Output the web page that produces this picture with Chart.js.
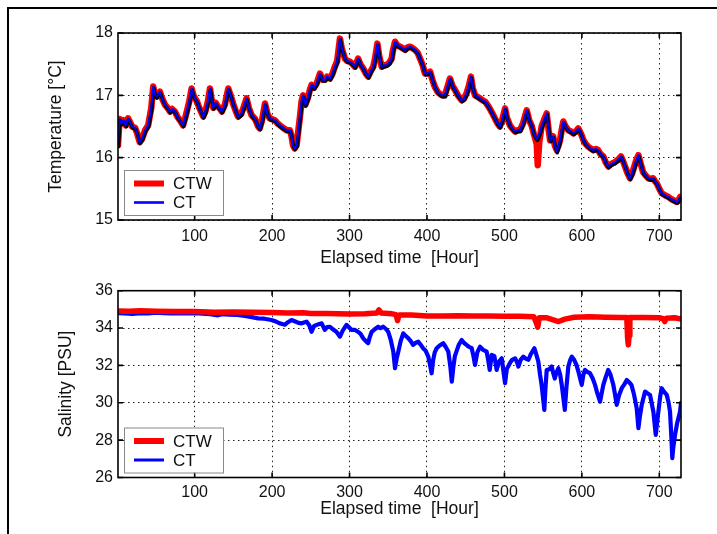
<!DOCTYPE html>
<html><head><meta charset="utf-8">
<script src="https://cdn.jsdelivr.net/npm/chart.js@4.4.0/dist/chart.umd.min.js"></script>
<style>
html,body{margin:0;padding:0;background:#fff;}
#wrap{position:relative;width:717px;height:534px;overflow:hidden;background:#fff;}
#frame{position:absolute;left:7px;top:7px;width:800px;height:600px;border-top:2px solid #000;border-left:2px solid #000;}
canvas{position:absolute;left:0;}
#c1{top:0;}
#c2{top:269px;}
</style></head><body>
<div id="wrap"><div id="frame"></div>
<canvas id="c1" width="717" height="269"></canvas>
<canvas id="c2" width="717" height="265"></canvas>
</div>
<script>
// ---------- DATA ----------
const xTicks = [100, 200, 300, 400, 500, 600, 700];
const tempTicks = [15, 16, 17, 18];
const salTicks = [26, 28, 30, 32, 34, 36];
const seriesNames = ['CTW', 'CT'];

const tempHours = [
  1,3,5,8,11,14,17,19,23,26,
  29,32,36,40,42,44,46.5,49,51,55,
  58,61.6,65,68,71,74.5,78,81,85,88,
  90,93,96,99,103,106,111,114,117,119.8,
  122,124,127,130,133,135,139,143.4,147,150,
  153,156,160,163,167,170,173.6,178,182,184,
  187,190.8,194,197,203.7,207,210,214,218.8,223,
  225,227,229,231.7,234,236,238,240,243,246.7,
  249,251,254,257.5,261.8,265,268,271,274.7,278,
  281,284,287.6,290,294,297,300.5,304,307,311,
  314,317.7,321,324,327,330.7,333,336,338,341.5,
  345,348,351,354.4,356,358.7,362,365,368,371.6,
  375,378,381,384.5,388,391,394,397.4,400,404,
  407,410,414,419,423,426,429.7,433,436,440,
  444.8,448,451,454,456.8,459,462,465,468.5,472,
  475,478,481,484,487.8,491,494,497,500.8,503,
  507,510,513.7,517,520,524,528.8,532,535,538,
  541.7,543,545,548,551,554.6,557,559,563,565,
  567.5,570,571.8,574,576,579,582.5,586,589,592,
  595.4,599,602,605,608,611,614.8,618,621,624,
  627.7,631,634,638,642.8,647,650.5,653,655.7,659,
  662,665,667.7,670,673,676,679,682,685.8,689,
  692,694,696.6,700,703,707,711.6,715,718,722.5,
  725,727
];
const tempCT = [
  16.20,16.62,16.55,16.60,16.52,16.63,16.56,16.50,16.48,16.38,
  16.25,16.30,16.44,16.52,16.66,16.80,17.14,17.00,16.98,17.06,
  16.95,16.85,16.80,16.74,16.78,16.74,16.65,16.60,16.52,16.65,
  16.75,16.90,17.11,16.98,16.90,16.80,16.66,16.75,16.90,17.11,
  16.92,16.80,16.88,16.82,16.78,16.74,16.85,17.11,16.98,16.85,
  16.75,16.66,16.70,16.80,16.95,16.80,16.68,16.62,16.50,16.47,
  16.60,16.87,16.70,16.63,16.60,16.55,16.52,16.48,16.44,16.44,
  16.35,16.20,16.15,16.20,16.45,16.66,16.90,17.00,16.85,16.98,
  17.10,17.17,17.12,17.19,17.35,17.25,17.25,17.30,17.27,17.35,
  17.46,17.55,17.91,17.75,17.59,17.55,17.54,17.50,17.46,17.59,
  17.50,17.43,17.35,17.30,17.38,17.46,17.60,17.83,17.65,17.46,
  17.48,17.49,17.52,17.59,17.72,17.86,17.80,17.78,17.76,17.73,
  17.77,17.78,17.76,17.73,17.68,17.59,17.50,17.35,17.35,17.38,
  17.25,17.14,17.05,17.00,17.00,17.12,17.27,17.15,17.09,17.00,
  16.92,16.95,17.03,17.15,17.30,17.12,17.00,16.98,16.95,16.92,
  16.90,16.85,16.79,16.72,16.63,16.55,16.50,16.60,16.79,16.65,
  16.52,16.47,16.42,16.44,16.44,16.55,16.76,16.60,16.52,16.38,
  16.30,16.32,16.38,16.50,16.60,16.71,16.45,16.28,16.34,16.20,
  16.10,16.20,16.28,16.45,16.58,16.50,16.44,16.42,16.39,16.42,
  16.47,16.38,16.28,16.22,16.18,16.15,16.12,16.14,16.12,16.06,
  16.02,15.92,15.86,15.90,15.93,15.97,16.02,15.95,15.86,15.75,
  15.67,15.75,15.86,15.95,16.04,15.90,15.77,15.72,15.67,15.66,
  15.67,15.63,15.59,15.50,15.43,15.40,15.37,15.34,15.32,15.29,
  15.32,15.37
];
const tempCTW = [
  16.20,16.62,16.55,16.60,16.52,16.63,16.56,16.50,16.48,16.38,
  16.25,16.30,16.44,16.52,16.66,16.80,17.14,17.00,16.98,17.06,
  16.95,16.85,16.80,16.74,16.78,16.74,16.65,16.60,16.52,16.65,
  16.75,16.90,17.11,16.98,16.90,16.80,16.66,16.75,16.90,17.11,
  16.92,16.80,16.88,16.82,16.78,16.74,16.85,17.11,16.98,16.85,
  16.75,16.66,16.70,16.80,16.95,16.80,16.68,16.62,16.50,16.47,
  16.60,16.87,16.70,16.63,16.60,16.55,16.52,16.48,16.44,16.44,
  16.35,16.20,16.15,16.20,16.45,16.66,16.90,17.00,16.85,16.98,
  17.10,17.17,17.12,17.19,17.35,17.25,17.25,17.30,17.27,17.35,
  17.46,17.55,17.91,17.75,17.59,17.55,17.54,17.50,17.46,17.59,
  17.50,17.43,17.35,17.30,17.38,17.46,17.60,17.83,17.65,17.46,
  17.48,17.49,17.52,17.59,17.72,17.86,17.80,17.78,17.76,17.73,
  17.77,17.78,17.76,17.73,17.68,17.59,17.50,17.35,17.35,17.38,
  17.25,17.14,17.05,17.00,17.00,17.12,17.27,17.15,17.09,17.00,
  16.92,16.95,17.03,17.15,17.30,17.12,17.00,16.98,16.95,16.92,
  16.90,16.85,16.79,16.72,16.63,16.55,16.50,16.60,16.79,16.65,
  16.52,16.47,16.42,16.44,16.44,16.55,16.76,16.60,16.52,16.38,
  16.22,15.88,16.25,16.50,16.60,16.71,16.45,16.28,16.34,16.20,
  16.12,16.20,16.28,16.45,16.58,16.50,16.44,16.42,16.39,16.42,
  16.47,16.38,16.28,16.22,16.18,16.15,16.12,16.14,16.12,16.06,
  16.02,15.92,15.86,15.90,15.93,15.97,16.02,15.95,15.86,15.75,
  15.67,15.75,15.86,15.95,16.04,15.90,15.77,15.72,15.67,15.66,
  15.67,15.63,15.59,15.50,15.43,15.40,15.37,15.34,15.32,15.29,
  15.32,15.37
];

const salCTHours = [
  1,10,20,30,40,50,60,70,80,90,
  100,110,120,126,130,135,145,155,165,172,
  182,190,199,205,210,213,216.6,220,225,230,
  234,238,241,244.6,248,251,254,257.6,261,264,
  268,271,274.7,278,283,287.6,291,296,299,302.7,
  307,311,314,317.7,321,324,326,328.6,333,337,
  340,343.6,347,350,353,356.5,358.7,361,363,366,
  369.4,372,376,379,382,385,388.8,392,395,398,
  401.7,404,406,408,410,412.5,416,421,424,427.5,
  430,432,434,436,438,441,444.8,448,451,454,
  457.7,460,462,465,468.5,472,477,479,481,483.6,
  487,490,493,496.5,499,500.8,503,507,510,513.7,
  516,518,521,524.4,528,531,534,538.6,541,543.8,
  546,548,550,551.5,553,554.6,558,561,563,565,
  567,569.6,572,574,576,578,580,582.5,585,587,
  590,593,596,599.8,602,604,607,610.5,614,617,
  620,623.5,626,627.7,631,634,637,640.6,643,645,
  648,651.5,655,658,661,664,667,670.8,673,675,
  677.3,681.6,685,688,690,692.3,695.4,697,698.8,701,
  703,706,709.6,712,713.8,715.5,716.8,718,720.3,723,
  726.8,728
];
const salCT = [
  34.80,34.78,34.76,34.80,34.79,34.82,34.80,34.79,34.78,34.78,
  34.80,34.77,34.74,34.70,34.68,34.74,34.72,34.70,34.65,34.60,
  34.52,34.50,34.43,34.35,34.25,34.22,34.18,34.30,34.43,34.35,
  34.28,34.25,34.30,34.34,34.15,33.80,34.10,34.17,34.22,34.25,
  33.90,34.05,34.07,33.95,33.80,33.54,33.85,34.17,34.05,33.90,
  33.90,33.80,33.70,33.45,33.30,33.19,33.50,33.80,33.95,34.07,
  34.00,34.07,33.95,33.80,33.40,32.74,31.85,32.40,32.74,33.30,
  33.72,33.60,33.45,33.30,33.10,33.20,33.27,33.10,32.92,32.80,
  32.47,32.00,31.58,32.30,32.70,32.92,33.05,33.19,33.00,32.74,
  32.00,31.13,31.90,32.50,32.74,33.10,33.36,33.20,33.10,33.00,
  32.92,32.50,32.03,32.70,33.00,32.85,32.74,32.30,31.76,32.56,
  32.50,31.76,32.20,32.38,31.60,31.05,31.80,32.12,32.30,32.38,
  32.20,31.94,32.30,32.47,32.35,32.30,32.60,32.92,32.60,32.20,
  31.50,30.96,30.20,29.62,30.80,31.76,31.80,31.94,31.60,31.30,
  31.60,31.85,31.50,30.96,30.30,29.62,30.80,31.94,32.30,32.47,
  32.30,32.03,31.60,30.96,31.50,31.76,31.65,31.58,31.30,30.96,
  30.50,30.06,30.60,30.96,31.40,31.76,31.50,30.96,30.40,29.89,
  30.40,30.78,31.00,31.22,31.10,30.96,30.50,29.71,28.64,29.30,
  29.89,30.60,30.50,30.42,30.00,29.53,28.28,28.90,29.53,30.30,
  30.78,30.60,30.42,30.00,29.53,28.20,27.04,27.60,28.28,28.90,
  29.53,30.00
];

const salCTWHours = [
  1,15,30,50,75,100,125,150,175,200,
  220,240,250,270,300,320,335,338,341,355,
  360,362,364,380,400,420,440,460,480,500,
  520,538,541,543,545,555,562,570,578,590,
  610,630,650,658,659,660,661,662,680,700,
  705,707,709,720,728
];
const salCTW = [
  34.92,34.90,34.93,34.90,34.88,34.88,34.85,34.86,34.85,34.83,
  34.80,34.82,34.78,34.78,34.75,34.76,34.80,34.97,34.80,34.76,
  34.72,34.40,34.70,34.70,34.65,34.65,34.66,34.64,34.65,34.63,
  34.63,34.60,34.30,34.05,34.55,34.55,34.45,34.35,34.48,34.58,
  34.60,34.58,34.57,34.57,33.50,33.10,33.60,34.56,34.56,34.55,
  34.50,34.35,34.52,34.55,34.48
];

// ---------- STYLE ----------
const FONT = "'Liberation Sans', Arial, Helvetica, sans-serif";
const RED = '#ff0000', BLUE = '#0000ff';
const pts = (hs, vs) => hs.map((h, i) => ({x: h, y: vs[i]}));

const framePlugin = {
  id: 'frame',
  beforeDatasetDraw(chart, args, opts) {
    if (opts.shiftIndex === args.index) {
      const ctx = chart.ctx;
      ctx.save();
      ctx.translate(0.5, 1.3);
    }
  },
  afterDatasetDraw(chart, args, opts) {
    if (opts.shiftIndex === args.index) chart.ctx.restore();
  },
  afterDraw(chart, args, opts) {
    const ctx = chart.ctx, a = chart.chartArea;
    const xs = chart.scales.x, ys = chart.scales.y;
    ctx.save();
    ctx.strokeStyle = '#000';
    ctx.lineWidth = 1.6;
    ctx.strokeRect(a.left, a.top, a.right - a.left, a.bottom - a.top);
    const tl = 5;
    ctx.beginPath();
    xs.ticks.forEach(t => {
      const px = xs.getPixelForValue(t.value);
      ctx.moveTo(px, a.bottom); ctx.lineTo(px, a.bottom - tl);
      ctx.moveTo(px, a.top); ctx.lineTo(px, a.top + tl);
    });
    ys.ticks.forEach(t => {
      const py = ys.getPixelForValue(t.value);
      ctx.moveTo(a.left, py); ctx.lineTo(a.left + tl, py);
      ctx.moveTo(a.right, py); ctx.lineTo(a.right - tl, py);
    });
    ctx.stroke();
    // legend
    const bx = a.left + 6, bw = 99, bh = 45, by = a.bottom - 5 - bh;
    ctx.fillStyle = '#fff';
    ctx.fillRect(bx, by, bw, bh);
    ctx.strokeStyle = '#8a8a8a';
    ctx.lineWidth = 1;
    ctx.strokeRect(bx + 0.5, by + 0.5, bw, bh);
    const items = opts.items;
    items.forEach((it, i) => {
      const ly = by + 13.5 + i * 19;
      ctx.strokeStyle = it.color;
      ctx.lineWidth = it.width;
      ctx.beginPath();
      ctx.moveTo(bx + 10, ly); ctx.lineTo(bx + 40, ly);
      ctx.stroke();
      ctx.fillStyle = '#111';
      ctx.font = '17px ' + FONT;
      ctx.textBaseline = 'middle';
      ctx.textAlign = 'left';
      ctx.fillText(it.label, bx + 49, ly + 1);
    });
    ctx.restore();
  }
};

function makeChart(id, cfg) {
  return new Chart(document.getElementById(id), {
    type: 'line',
    data: {datasets: cfg.datasets},
    options: {
      responsive: false,
      animation: false,
      events: [],
      layout: {padding: cfg.padding},
      elements: {point: {radius: 0}, line: {tension: 0, borderJoinStyle: 'round', borderCapStyle: 'round'}},
      plugins: {
        legend: {display: false},
        tooltip: {enabled: false},
        frame: {items: cfg.legendItems, shiftIndex: cfg.shiftIndex}
      },
      scales: {
        x: {
          type: 'linear', min: 1, max: 728,
          afterBuildTicks: s => { s.ticks = xTicks.map(v => ({value: v})); },
          ticks: {font: {family: FONT, size: 16}, color: '#111', padding: cfg.xPad, maxRotation: 0},
          grid: {color: '#222', lineWidth: 1, drawTicks: false},
          border: {display: false, dash: [1.5, 3.5]},
          title: {display: true, text: 'Elapsed time  [Hour]', font: {family: FONT, size: 17.5}, color: '#111', padding: 0},
          afterFit: s => { s.height = cfg.xH; }
        },
        y: {
          type: 'linear', min: cfg.yMin, max: cfg.yMax,
          afterBuildTicks: s => { s.ticks = cfg.yTicks.map(v => ({value: v})); },
          ticks: {font: {family: FONT, size: 16}, color: '#111', padding: 5},
          grid: {color: '#222', lineWidth: 1, drawTicks: false},
          border: {display: false, dash: [1.5, 3.5]},
          title: {display: true, text: cfg.yTitle, font: {family: FONT, size: 17.5}, color: '#111', padding: 0},
          afterFit: s => { s.width = cfg.yW; }
        }
      }
    },
    plugins: [framePlugin]
  });
}

makeChart('c1', {
  datasets: [
    {label: seriesNames[1], data: pts(tempHours, tempCT), borderColor: BLUE, borderWidth: 2},
    {label: 'shade', data: pts(tempHours, tempCT), borderColor: '#000', borderWidth: 3.6},
    {label: seriesNames[0], data: pts(tempHours, tempCTW), borderColor: RED, borderWidth: 6.5}
  ],
  shiftIndex: 1,
  legendItems: [{label: seriesNames[0], color: RED, width: 6}, {label: seriesNames[1], color: BLUE, width: 2.6}],
  padding: {left: 46, right: 36, top: 33, bottom: 0},
  yW: 72, xH: 49, xPad: 6.5,
  yMin: 15, yMax: 18, yTicks: tempTicks, yTitle: 'Temperature [°C]'
});

makeChart('c2', {
  datasets: [
    {label: seriesNames[0], data: pts(salCTWHours, salCTW), borderColor: RED, borderWidth: 5.5},
    {label: seriesNames[1], data: pts(salCTHours, salCT), borderColor: BLUE, borderWidth: 4.2}
  ],
  shiftIndex: -1,
  legendItems: [{label: seriesNames[0], color: RED, width: 6}, {label: seriesNames[1], color: BLUE, width: 3}],
  padding: {left: 56, right: 36, top: 21.7, bottom: 14.5},
  yW: 62, xH: 42, xPad: 5.5,
  yMin: 26, yMax: 36, yTicks: salTicks, yTitle: 'Salinity [PSU]'
});
</script>
</body></html>
